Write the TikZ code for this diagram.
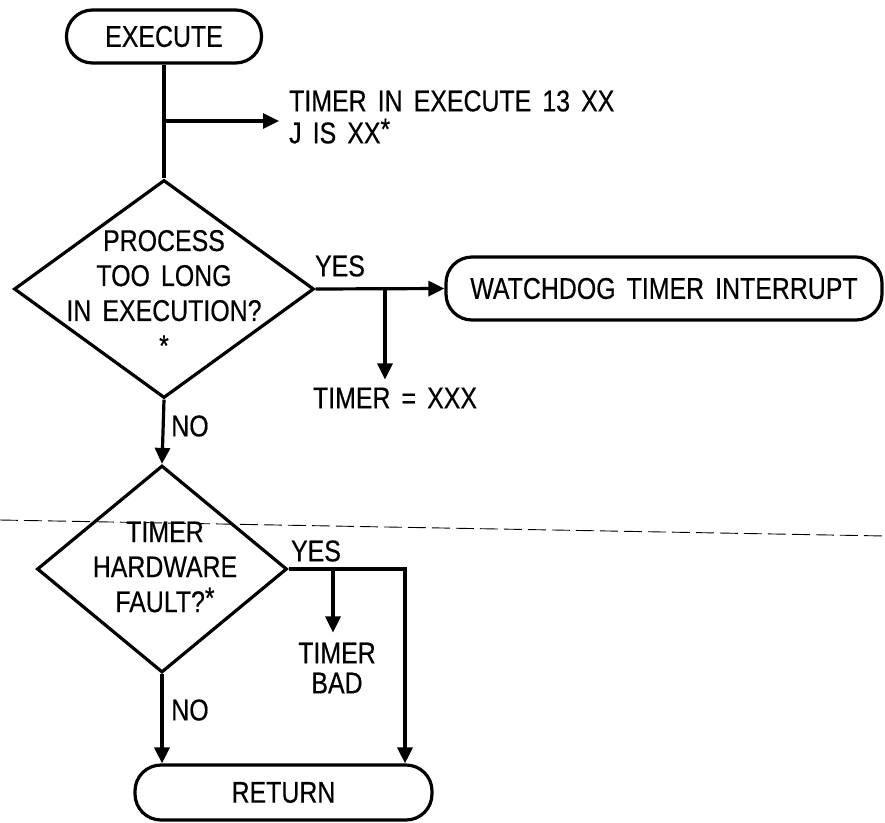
\documentclass[tikz,border=0pt]{standalone}
\usepackage{fontspec}
\setmainfont[FakeStretch=0.83,FakeBold=0.4,WordSpace=1.6]{Liberation Sans}
\usetikzlibrary{shapes.geometric,arrows.meta,calc}
\newcommand\supstar{\raisebox{4pt}{*}}
\begin{document}
\begin{tikzpicture}[x=1pt,y=-1pt,
  every node/.style={font=\fontsize{30}{35}\selectfont, inner sep=0pt},
  ln/.style={line width=3.2pt},
  arr/.style={line width=3.2pt,-{Triangle[length=16pt,width=15pt]}},
  term/.style={draw,line width=3.2pt,rounded corners=26pt},
  dec/.style={draw,diamond,line width=3.2pt,inner sep=0pt},
  scanline/.style={line width=0.9pt,dash pattern=on 18pt off 6pt}]
\useasboundingbox (0,0) rectangle (885,822);

% terminals
\node[term,minimum width=195pt,minimum height=53pt] (exe) at (164,36.5) {EXECUTE};
\node[term,minimum width=436pt,minimum height=63pt] (wd) at (664,288.5) {WATCHDOG TIMER INTERRUPT};
\node[term,minimum width=297pt,minimum height=55pt] (ret) at (283.5,792.5) {RETURN};

% decisions
\node[dec,minimum width=300pt,minimum height=218pt] (d1) at (164,289) {};
\node[align=center] (d1t) at (164,293) {PROCESS\\TOO LONG\\IN EXECUTION?\\*};
\node[dec,minimum width=250pt,minimum height=207pt] (d2) at (162,569) {};
\node[align=center] (d2t) at (165,567) {TIMER\\HARDWARE\\FAULT?\supstar};

% texts
\node[align=left,anchor=west,font=\fontsize{30}{32}\selectfont] (t1) at (289,117) {TIMER IN EXECUTE 13 XX\\J IS XX\supstar};
\node (t2) at (395,398) {TIMER = XXX};
\node[align=center,font=\fontsize{30}{30}\selectfont] (tb) at (337,668) {TIMER\\BAD};
\node (yes1) at (340,266) {YES};
\node (no1) at (190,426) {NO};
\node (yes2) at (316,551) {YES};
\node (no2) at (190,710) {NO};

% branch points
\coordinate (b1) at (164,121);
\coordinate (b2) at (385,289);
\coordinate (b3) at (333,569);
\coordinate (c3) at (405,569);

% connectors
\draw[ln] (exe.south) -- (d1.north);
\draw[arr,shorten >=10pt] (b1) -- (b1 -| t1.west);
\draw[arr] (d1.east) -- (wd.west);
\draw[arr,shorten >=8pt] (b2) -- (b2 |- t2.north);
\draw[arr] (d1.south) -- (d2.north);
\draw[arr] (d2.east) -- (c3) -- (c3 |- ret.north);
\draw[arr,shorten >=10pt] (b3) -- (b3 |- tb.north);
\draw[arr] (d2.south) -- (d2.south |- ret.north);

% scan artefact line
\draw[scanline] (0,520) -- (885,536);
\end{tikzpicture}
\end{document}
